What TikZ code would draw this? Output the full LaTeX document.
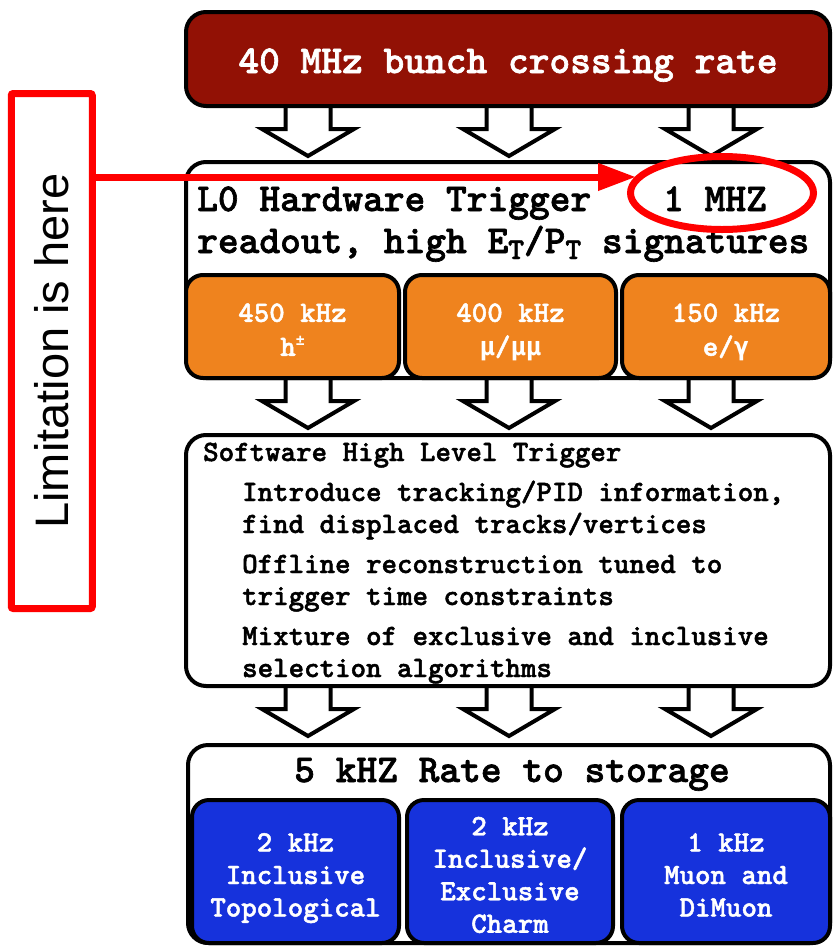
\documentclass[tikz,border=0pt]{standalone}
\usepackage{fontspec}
\newfontfamily\cour{lmmonolt10-bold}[Extension=.otf,FakeBold=1.6]
\newfontfamily\grk{DejaVu Sans Mono}[Scale=0.87]
\newfontfamily\arial{Liberation Sans}
\usetikzlibrary{shapes.geometric,arrows.meta}
\definecolor{darkred}{RGB}{146,17,5}
\definecolor{lborange}{RGB}{239,131,30}
\definecolor{lbblue}{RGB}{22,50,220}
\definecolor{hlred}{RGB}{255,0,0}
\newcommand{\lowT}{\raisebox{-6pt}{\fontsize{30pt}{30pt}\cour T}}
\begin{document}
\begin{tikzpicture}[x=1pt,y=-1pt,
        box/.style={draw,line width=4pt,rounded corners=20pt,inner sep=0pt},
        subbox/.style={box,rounded corners=17pt},
        subtext/.style={text=white,font=\fontsize{29.5pt}{34pt}\cour,inner sep=0pt},
        big/.style={font=\fontsize{39.5pt}{42pt}\cour,inner sep=0pt},
        small/.style={font=\fontsize{29.5pt}{32pt}\cour,inner sep=0pt,anchor=base west},
        hl/.style={draw=hlred,line width=7pt},
        downarrow/.pic={\draw[line width=4pt,fill=white,line join=miter] (-22.5,0) -- (-22.5,23) -- (-46,23) -- (0,50) -- (46,23) -- (22.5,23) -- (22.5,0);}]
            \useasboundingbox (0,0) rectangle (833,946);

            \foreach \y in {106,378,686} {
                \foreach \x in {308,509,711} {
                    \pic at (\x,\y) {downarrow};
                }
            }

            \node[box,fill=darkred,text=white,big,text height=28pt,text depth=0pt,minimum width=644pt,minimum height=94pt] (A) at (508,59) {40 MHz bunch crossing rate};

            \node[box,fill=white,minimum width=644pt,minimum height=216pt] (B) at (508,270) {};
            \node[big,anchor=base west] (B0) at (197,211) {L0 Hardware Trigger\hspace{72pt}1 MHZ};
            \node[big,anchor=base west] (B4) at (197,253) {readout, high E\lowT/P\lowT{} signatures};
            \node[subbox,fill=lborange,minimum width=213pt,minimum height=103pt] (B1) at (292.5,326.5) {};
            \node[subbox,fill=lborange,minimum width=211pt,minimum height=103pt] (B2) at (510.5,326.5) {};
            \node[subbox,fill=lborange,minimum width=208pt,minimum height=103pt] (B3) at (726,326.5) {};
            \node[subtext] (B1t) at (B1 |- 0,332) {\begin{tabular}{@{}c@{}}450 kHz\\ h\raisebox{10pt}{\fontsize{17pt}{17pt}\grk\bfseries ±}\end{tabular}};
            \node[subtext] (B2t) at (B2 |- 0,332) {\begin{tabular}{@{}c@{}}400 kHz\\ {\grk\bfseries μ}/{\grk\bfseries μμ}\end{tabular}};
            \node[subtext] (B3t) at (B3 |- 0,332) {\begin{tabular}{@{}c@{}}150 kHz\\ e/{\grk\bfseries γ}\end{tabular}};

            \node[box,fill=white,minimum width=644pt,minimum height=251pt] (C) at (508,560.5) {};
            \node[small] (C0) at (203,461) {Software High Level Trigger};
            \node[small] (C1) at (242,501) {\begin{tabular}[t]{@{}l@{}}Introduce tracking/PID information,\\ find displaced tracks/vertices\end{tabular}};
            \node[small] (C2) at (242,573) {\begin{tabular}[t]{@{}l@{}}Offline reconstruction tuned to\\ trigger time constraints\end{tabular}};
            \node[small] (C3) at (242,645) {\begin{tabular}[t]{@{}l@{}}Mixture of exclusive and inclusive\\ selection algorithms\end{tabular}};

            \node[box,fill=white,minimum width=642pt,minimum height=198pt] (D) at (509,844) {};
            \node[big,anchor=base] (D0) at (512,782) {5 kHZ Rate to storage};
            \node[subbox,fill=lbblue,minimum width=207pt,minimum height=143pt] (D1) at (295.5,871.5) {};
            \node[subbox,fill=lbblue,minimum width=206pt,minimum height=143pt] (D2) at (510,871.5) {};
            \node[subbox,fill=lbblue,minimum width=208pt,minimum height=143pt] (D3) at (726,871.5) {};
            \node[subtext,font=\fontsize{29.5pt}{32.5pt}\cour] (D1t) at (D1 |- 0,877.5) {\begin{tabular}{@{}c@{}}2 kHz\\ Inclusive\\ Topological\end{tabular}};
            \node[subtext,font=\fontsize{29.5pt}{32.5pt}\cour] (D2t) at (D2 |- 0,877.5) {\begin{tabular}{@{}c@{}}2 kHz\\ Inclusive/\\ Exclusive\\ Charm\end{tabular}};
            \node[subtext,font=\fontsize{29.5pt}{32.5pt}\cour] (D3t) at (D3 |- 0,877.5) {\begin{tabular}{@{}c@{}}1 kHz\\ Muon and\\ DiMuon\end{tabular}};

            \node[hl,rounded corners=2pt,rotate=90,minimum width=515pt,minimum height=81pt,inner sep=0pt,font=\arial\fontsize{47pt}{50pt}\selectfont] (E) at (51.75,351) {Limitation is here};
            \node[hl,ellipse,minimum width=183pt,minimum height=73pt] (F) at (722,193) {};
            \coordinate (tip) at (636,177);
            \draw[hl,-{Triangle[length=38pt,width=26pt]}] (E.south |- tip) -- (tip);
        \end{tikzpicture}
\end{document}
